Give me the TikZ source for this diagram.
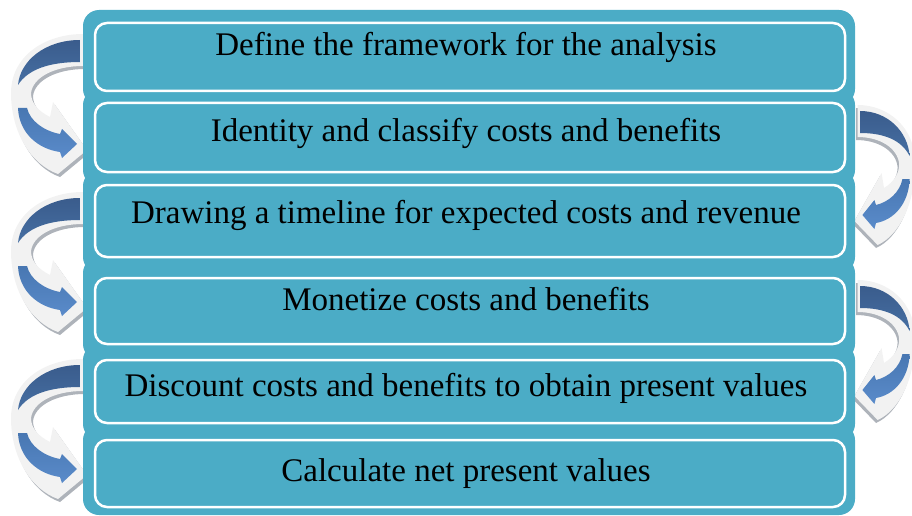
\documentclass[tikz,border=0pt]{standalone}
\usepackage{fontspec}
\setmainfont{Liberation Serif}
\definecolor{boxfill}{HTML}{4BACC6}
\definecolor{darkarrowA}{HTML}{3A5C8C}
\definecolor{darkarrowB}{HTML}{466FA3}
\definecolor{lightarrowA}{HTML}{4877B2}
\definecolor{lightarrowB}{HTML}{5A8BCA}
\definecolor{outlinefill}{HTML}{F2F2F2}
\definecolor{outlineshadow}{HTML}{AEB3BA}
\tikzset{
  outerbox/.style={fill=boxfill, draw=none, rounded corners=16pt, minimum width=772pt, inner sep=0pt},
  innerbox/.style={fill=boxfill, draw=white, line width=2.5pt, rounded corners=12pt, minimum width=750pt, inner sep=0pt},
  steptext/.style={anchor=base, inner sep=0pt, font=\fontsize{33}{40}\selectfont, text=black},
}
\newcommand\arrowoutlinepath{(83,-17) .. controls (45,-17) and (11,5) .. (11,42) .. controls (11,80) and (30,113) .. (58,123) -- (87,99) -- (53,51) -- (50,66) .. controls (38,60) and (31,52) .. (31,42) .. controls (33,26) and (55,15) .. (83,15) -- cycle}
\newcommand\curvedarrowshape{%
  \fill[outlineshadow] [shift={(2,3)}] \arrowoutlinepath;
  \fill[outlinefill] \arrowoutlinepath;
  \shade[top color=darkarrowA, bottom color=darkarrowB] (80,-11) .. controls (45,-11) and (20,10) .. (18,34) .. controls (28,18) and (50,11) .. (80,11) -- cycle;
  \shade[top color=lightarrowA, bottom color=lightarrowB] (18,57) .. controls (19,82) and (38,98) .. (60,101) -- (62,107) -- (77,93) -- (62,78) -- (60,83) .. controls (44,80) and (30,70) .. (27,57) -- cycle;
}
\begin{document}
\begin{tikzpicture}[x=1pt, y=-1pt]
\useasboundingbox (0,0) rectangle (912,516);
\begin{scope}
\clip (0,0) rectangle (912,516);
% left arrows
\begin{scope}[shift={(0,51)}] \curvedarrowshape \end{scope}
\begin{scope}[shift={(0,209)}] \curvedarrowshape \end{scope}
\begin{scope}[shift={(0,376)}] \curvedarrowshape \end{scope}
% right arrows
\begin{scope}[shift={(860,122)}, xscale=-0.8, shift={(-80,0)}] \curvedarrowshape \end{scope}
\begin{scope}[shift={(860,297)}, xscale=-0.8, shift={(-80,0)}] \curvedarrowshape \end{scope}
% outer boxes
\node[outerbox, minimum height=95pt] (o1) at (469,57.5) {};
\node[outerbox, minimum height=97pt] (o2) at (469,137.5) {};
\node[outerbox, minimum height=103pt] (o3) at (469,221.5) {};
\node[outerbox, minimum height=103pt] (o4) at (469,308.5) {};
\node[outerbox, minimum height=96pt] (o5) at (469,392) {};
\node[outerbox, minimum height=91pt] (o6) at (469,469.5) {};
% inner boxes
\node[innerbox, minimum height=68pt] (b1) at (470,57) {};
\node[innerbox, minimum height=69pt] (b2) at (470,137.5) {};
\node[innerbox, minimum height=72pt] (b3) at (470,221) {};
\node[innerbox, minimum height=66pt] (b4) at (470,311) {};
\node[innerbox, minimum height=63pt] (b5) at (470,391.5) {};
\node[innerbox, minimum height=67pt] (b6) at (470,473.5) {};
% texts
\node[steptext] (t1) at (466,56) {Define the framework for the analysis};
\node[steptext] (t2) at (466,141) {Identity and classify costs and benefits};
\node[steptext] (t3) at (466,223) {Drawing a timeline for expected costs and revenue};
\node[steptext] (t4) at (466,310) {Monetize costs and benefits};
\node[steptext] (t5) at (466,396) {Discount costs and benefits to obtain present values};
\node[steptext] (t6) at (466,481) {Calculate net present values};
\end{scope}
\end{tikzpicture}
\end{document}
